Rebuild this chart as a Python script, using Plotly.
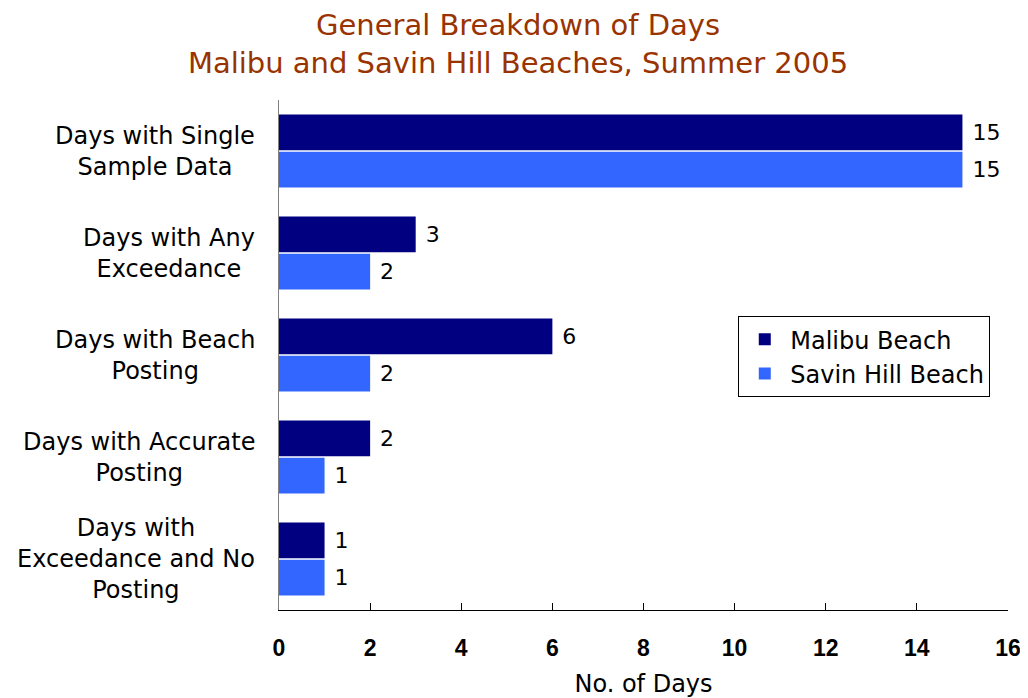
import plotly.graph_objects as go

categories = [
    "Days with Single<br>Sample Data",
    "Days with Any<br>Exceedance",
    "Days with Beach<br>Posting",
    "Days with Accurate<br>Posting",
    "Days with<br>Exceedance and No<br>Posting",
]
malibu = [15, 3, 6, 2, 1]
savin_hill = [15, 2, 2, 1, 1]
x_ticks = [0, 2, 4, 6, 8, 10, 12, 14, 16]

fig = go.Figure()

fig.add_trace(go.Bar(
    y=categories, x=malibu, orientation='h', name='Malibu Beach', legendgroup='m',
    marker=dict(color='#000080', line=dict(width=0)),
    texttemplate='\u00a0%{x}', textposition='outside', cliponaxis=False,
    textfont=dict(family='DejaVu Sans', size=22, color='black')
))
fig.add_trace(go.Bar(
    y=categories, x=savin_hill, orientation='h', name='Savin Hill Beach', legendgroup='s',
    marker=dict(color='#3366FF', line=dict(width=0)),
    texttemplate='\u00a0%{x}', textposition='outside', cliponaxis=False,
    textfont=dict(family='DejaVu Sans', size=22, color='black')
))

# category labels: right-aligned block, lines centred (as in the original)
for cat in categories:
    fig.add_annotation(
        x=-0.03, xref='paper', xanchor='right', y=cat, yref='y',
        text=cat, showarrow=False, align='center',
        font=dict(family='DejaVu Sans', size=24, color='black')
    )

fig.update_layout(
    width=1020, height=690,
    paper_bgcolor='white', plot_bgcolor='white',
    barmode='group', bargap=0.27, bargroupgap=0.04,
    margin=dict(l=271, r=20, t=92, b=88),
    title=dict(
        text="General Breakdown of Days<br>Malibu and Savin Hill Beaches, Summer 2005",
        x=0.5, xanchor='center', xref='container', y=0.961, yanchor='middle',
        font=dict(family='DejaVu Sans', size=29, color='#993300')
    ),
    font=dict(family='DejaVu Sans', size=17, color='black'),
    legend=dict(
        x=0.63, y=0.576, xanchor='left', yanchor='top',
        bordercolor='black', borderwidth=1, bgcolor='white',
        font=dict(family='DejaVu Sans', size=24),
        traceorder='grouped', tracegroupgap=0,
        itemwidth=41
    ),
    xaxis=dict(
        range=[0, 16], tickvals=x_ticks, showgrid=False, zeroline=False,
        showline=True, linecolor='black', linewidth=1, automargin=False,
        ticks='inside', ticklen=7, tickcolor='black',
        ticklabelstandoff=17,
        tickfont=dict(family='Liberation Sans', size=23, weight='bold'),
        title=dict(text='No. of Days', standoff=20,
                   font=dict(family='DejaVu Sans', size=24))
    ),
    yaxis=dict(
        autorange='reversed', showgrid=False, zeroline=False,
        showline=True, linecolor='#808080', linewidth=1, automargin=False,
        ticks='', showticklabels=False
    ),
)

fig.write_html("out.html")
